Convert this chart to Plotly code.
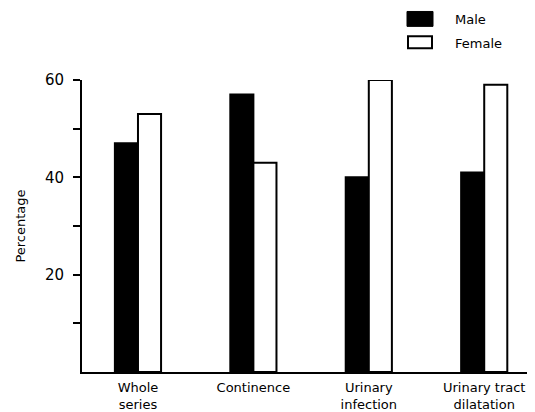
import plotly.graph_objects as go

categories = ["Whole<br>series", "Continence", "Urinary<br>infection", "Urinary tract<br>dilatation"]
male = [47, 57, 40, 41]
female = [53, 43, 60, 59]
y_tickvals = [10, 20, 30, 40, 50, 60]
y_ticktext = ["", "20", "", "40", "", "60"]

FONT = "'DejaVu Sans', sans-serif"

fig = go.Figure()
fig.add_trace(go.Bar(x=list(range(len(categories))), y=male, name="Male",
                     marker=dict(color="black", line=dict(color="black", width=2))))
fig.add_trace(go.Bar(x=list(range(len(categories))), y=female, name="Female",
                     marker=dict(color="white", line=dict(color="black", width=2))))

# page body has an 8px margin, so the figure is sized/placed to compensate
fig.update_layout(
    width=527, height=404,
    margin=dict(l=74, r=0, t=72, b=38),
    paper_bgcolor="white", plot_bgcolor="white",
    barmode="group", bargap=0.6, bargroupgap=0,
    showlegend=False,
    font=dict(family=FONT, color="black", size=12),
    xaxis=dict(range=[-0.485, 3.44], tickvals=list(range(len(categories))),
               ticktext=categories, showline=True, linecolor="black", linewidth=2,
               ticks="", showgrid=False, zeroline=False, ticklabelstandoff=2,
               tickfont=dict(size=13, family=FONT)),
    yaxis=dict(range=[0, 60], tickvals=y_tickvals, ticktext=y_ticktext,
               showline=True, linecolor="black", linewidth=2,
               ticks="outside", ticklen=7, tickwidth=2, tickcolor="black",
               showgrid=False, zeroline=False, ticklabelstandoff=6,
               tickfont=dict(size=15, family=FONT),
               title=dict(text="Percentage", font=dict(size=13, family=FONT), standoff=16)),
)

# custom legend
fig.add_shape(type="rect", xref="paper", yref="paper",
              x0=(407 - 82) / 294 * 294 / 453, x1=(433 - 82) / 453,
              y0=(374 - 26) / 294, y1=(374 - 11) / 294,
              fillcolor="black", line=dict(color="black", width=1))
fig.add_shape(type="rect", xref="paper", yref="paper",
              x0=(408 - 82) / 453, x1=(432 - 82) / 453,
              y0=(374 - 48) / 294, y1=(374 - 36) / 294,
              fillcolor="white", line=dict(color="black", width=2))
fig.add_annotation(xref="paper", yref="paper", x=(453 - 82) / 453, y=(374 - 19) / 294,
                   text="Male", showarrow=False, xanchor="left", yanchor="middle",
                   font=dict(size=13, family=FONT))
fig.add_annotation(xref="paper", yref="paper", x=(453 - 82) / 453, y=(374 - 43) / 294,
                   text="Female", showarrow=False, xanchor="left", yanchor="middle",
                   font=dict(size=13, family=FONT))

fig.write_html("out.html")
